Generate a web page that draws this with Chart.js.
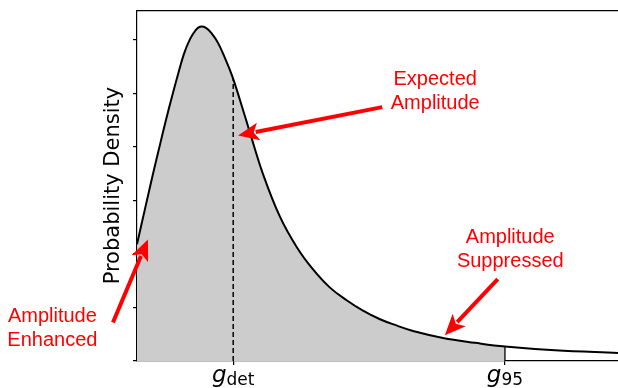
<!DOCTYPE html>
<html>
<head>
<meta charset="utf-8">
<script src="https://cdn.jsdelivr.net/npm/chart.js@4.4.1/dist/chart.umd.min.js"></script>
<style>
    html, body { margin: 0; padding: 0; background: #fff; }
</style>
</head>
<body>
<canvas id="densityChart" width="618" height="388"></canvas>
<script>
// Amplitude axis (g) and the probability density along it
const amplitude = [0, 0.083, 0.166, 0.239, 0.301, 0.364, 0.426, 0.489, 0.551, 0.603, 0.655,
    0.717, 0.780, 0.842, 0.904, 0.988, 1.071, 1.175, 1.310, 1.487, 1.663, 1.830, 2.006,
    2.183, 2.349, 2.526, 2.703, 2.869, 3.181, 3.514, 3.825, 4.345, 5.000];
const density = [0.218, 0.284, 0.349, 0.404, 0.450, 0.494, 0.535, 0.574, 0.601, 0.616, 0.624,
    0.622, 0.611, 0.594, 0.570, 0.533, 0.487, 0.426, 0.349, 0.269, 0.212, 0.171, 0.137,
    0.113, 0.094, 0.078, 0.066, 0.056, 0.043, 0.034, 0.027, 0.020, 0.015];

// Marked amplitudes
const gDet = 1.0;
const g95 = 3.825;

// Axis limits
const xMax = 5.0;
const yMax = 0.655;
const yStep = 0.1;

// Red call-outs: text anchor, arrow tail and arrow tip (data units)
const callouts = [
    { lines: ['Expected', 'Amplitude'], at: [3.10, 0.515], from: [2.55, 0.474], to: [1.05, 0.421] },
    { lines: ['Amplitude', 'Suppressed'], at: [3.88, 0.220], from: [3.75, 0.153], to: [3.20, 0.048] },
    { lines: ['Amplitude', 'Enhanced'], at: [-0.88, 0.072], from: [-0.25, 0.072], to: [0.114, 0.227] }
];

const curve = amplitude.map((g, i) => ({ x: g, y: density[i] }));
const shaded = curve.filter(p => p.x <= g95);

// density at a given amplitude
function densityAt(g) {
    for (let i = 1; i < amplitude.length; i++) {
        if (amplitude[i] >= g) {
            const t = (g - amplitude[i - 1]) / (amplitude[i] - amplitude[i - 1]);
            return density[i - 1] + t * (density[i] - density[i - 1]);
        }
    }
    return density[density.length - 1];
}

function drawArrow(ctx, x0, y0, x1, y1) {
    const ang = Math.atan2(y1 - y0, x1 - x0);
    const head = 21, half = 9;
    const bx = x1 - head * Math.cos(ang);
    const by = y1 - head * Math.sin(ang);
    ctx.beginPath();
    ctx.moveTo(x0, y0);
    ctx.lineTo(bx + 3 * Math.cos(ang), by + 3 * Math.sin(ang));
    ctx.stroke();
    ctx.beginPath();
    ctx.moveTo(x1, y1);
    ctx.lineTo(bx + half * Math.sin(ang), by - half * Math.cos(ang));
    ctx.lineTo(bx + 5 * Math.cos(ang), by + 5 * Math.sin(ang));
    ctx.lineTo(bx - half * Math.sin(ang), by + half * Math.cos(ang));
    ctx.closePath();
    ctx.fill();
}

// g_det / g_95 tick labels and the red call-outs
const annotations = {
    id: 'annotations',
    afterDraw(chart) {
        const { ctx, scales: { x, y }, chartArea } = chart;
        ctx.save();

        ctx.fillStyle = '#000';
        ctx.textBaseline = 'alphabetic';
        ctx.textAlign = 'left';
        [[gDet, 'det'], [g95, '95']].forEach(([g, sub]) => {
            ctx.font = 'italic 23px "DejaVu Sans"';
            const wg = ctx.measureText('g').width;
            ctx.font = '17px "DejaVu Sans"';
            const ws = ctx.measureText(sub).width;
            const left = x.getPixelForValue(g) - (wg + ws) / 2;
            ctx.font = 'italic 23px "DejaVu Sans"';
            ctx.fillText('g', left, chartArea.bottom + 21);
            ctx.font = '17px "DejaVu Sans"';
            ctx.fillText(sub, left + wg, chartArea.bottom + 24);
        });

        ctx.fillStyle = '#ff0000';
        ctx.strokeStyle = '#ff0000';
        ctx.lineWidth = 4;
        ctx.font = '20px "Liberation Sans"';
        ctx.textAlign = 'center';
        callouts.forEach(c => {
            const tx = x.getPixelForValue(c.at[0]);
            const ty = y.getPixelForValue(c.at[1]);
            c.lines.forEach((line, i) => ctx.fillText(line, tx, ty + i * 24));
            drawArrow(ctx,
                x.getPixelForValue(c.from[0]), y.getPixelForValue(c.from[1]),
                x.getPixelForValue(c.to[0]), y.getPixelForValue(c.to[1]));
        });
        ctx.restore();
    }
};

new Chart(document.getElementById('densityChart'), {
    type: 'line',
    data: {
        datasets: [
            {
                data: curve,
                borderColor: '#000',
                borderWidth: 2,
                pointRadius: 0,
                fill: false,
                tension: 0.4,
                order: 1
            },
            {
                data: [{ x: gDet, y: 0 }, { x: gDet, y: densityAt(gDet) }],
                borderColor: '#000',
                borderWidth: 1.5,
                borderDash: [5, 3],
                pointRadius: 0,
                fill: false,
                order: 2
            },
            {
                data: [{ x: g95, y: 0 }, { x: g95, y: densityAt(g95) }],
                borderColor: '#000',
                borderWidth: 1.3,
                pointRadius: 0,
                fill: false,
                order: 3
            },
            {
                data: shaded,
                borderWidth: 0,
                borderColor: 'rgba(0,0,0,0)',
                backgroundColor: '#cccccc',
                pointRadius: 0,
                fill: 'origin',
                tension: 0.4,
                order: 4
            }
        ]
    },
    options: {
        responsive: false,
        animation: false,
        layout: { padding: { left: 97, top: 6, right: 0, bottom: 0 } },
        plugins: {
            legend: { display: false },
            tooltip: { enabled: false }
        },
        scales: {
            x: {
                type: 'linear',
                min: 0,
                max: xMax,
                afterBuildTicks: s => { s.ticks = [{ value: gDet }, { value: g95 }]; },
                ticks: { callback: () => '', autoSkip: false },
                grid: { drawOnChartArea: false, drawTicks: true, tickLength: 4, color: '#000', lineWidth: 1.2 },
                border: { display: true, color: '#000', width: 1.2 },
                afterFit: s => { s.height = 27; }
            },
            xTop: {
                type: 'linear',
                position: 'top',
                min: 0,
                max: xMax,
                ticks: { display: false },
                grid: { display: false },
                border: { display: true, color: '#000', width: 1.2 },
                afterFit: s => { s.height = 0; }
            },
            y: {
                min: 0,
                max: yMax,
                ticks: { stepSize: yStep, includeBounds: false, callback: () => '' },
                grid: { drawOnChartArea: false, drawTicks: true, tickLength: 4, color: '#000', lineWidth: 1.2 },
                border: { display: true, color: '#000', width: 1.2 },
                title: {
                    display: true,
                    text: 'Probability Density',
                    color: '#000',
                    font: { family: 'DejaVu Sans', size: 21 },
                    padding: 4
                },
                afterFit: s => { s.width = 40; }
            }
        }
    },
    plugins: [annotations]
});
</script>
</body>
</html>
